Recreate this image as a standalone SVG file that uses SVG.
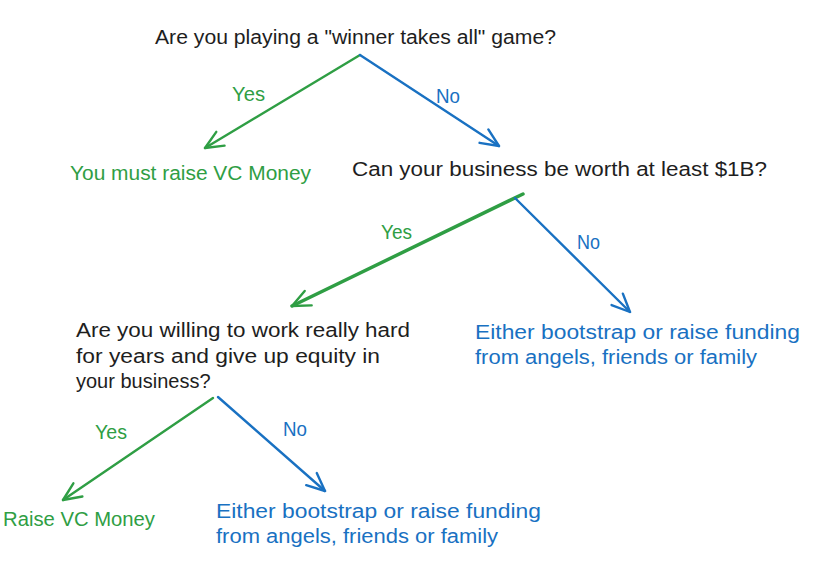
<svg xmlns="http://www.w3.org/2000/svg" width="813" height="565" viewBox="0 0 813 565">
<style>
text{font-family:"Liberation Sans","DejaVu Sans",sans-serif;font-size:20px}
.k{fill:#1e1e1e}.g{fill:#2f9e44}.b{fill:#1971c2}
.lg{stroke:#2f9e44;stroke-width:2.4;fill:none;stroke-linecap:round}
.lb{stroke:#1971c2;stroke-width:2.4;fill:none;stroke-linecap:round}
</style>
<defs>
<marker id="ag" markerUnits="userSpaceOnUse" markerWidth="30" markerHeight="30" refX="0" refY="0" viewBox="-20 -15 30 30" orient="auto"><path d="M-18 -8 L0 0 L-18 8" stroke="#2f9e44" stroke-width="2.4" fill="none" stroke-linecap="round" stroke-linejoin="round"/></marker>
<marker id="ab" markerUnits="userSpaceOnUse" markerWidth="30" markerHeight="30" refX="0" refY="0" viewBox="-20 -15 30 30" orient="auto"><path d="M-18 -8 L0 0 L-18 8" stroke="#1971c2" stroke-width="2.4" fill="none" stroke-linecap="round" stroke-linejoin="round"/></marker>
</defs>
<g id="connectors">
<line class="lg" x1="360" y1="55" x2="205" y2="148" marker-end="url(#ag)"/>
<line class="lb" x1="360" y1="55" x2="499" y2="146" marker-end="url(#ab)"/>
<line class="lg" style="stroke-width:3.5" x1="523" y1="194" x2="292" y2="306" marker-end="url(#ag)"/>
<line class="lb" x1="515" y1="198" x2="630" y2="312" marker-end="url(#ab)"/>
<line class="lg" x1="213" y1="398" x2="63" y2="500" marker-end="url(#ag)"/>
<line class="lb" x1="218" y1="397" x2="325" y2="491" marker-end="url(#ab)"/>
<text class="g" x="232" y="101" textLength="33" lengthAdjust="spacingAndGlyphs">Yes</text>
<text class="b" x="436" y="103" textLength="24" lengthAdjust="spacingAndGlyphs">No</text>
<text class="g" x="381" y="239" textLength="31" lengthAdjust="spacingAndGlyphs">Yes</text>
<text class="b" x="577" y="249" textLength="23" lengthAdjust="spacingAndGlyphs">No</text>
<text class="g" x="95" y="439" textLength="32" lengthAdjust="spacingAndGlyphs">Yes</text>
<text class="b" x="283" y="436" textLength="24" lengthAdjust="spacingAndGlyphs">No</text>
</g>
<g id="q1"><text class="k" x="155" y="44" textLength="401" lengthAdjust="spacingAndGlyphs">Are you playing a "winner takes all" game?</text></g>
<g id="vc1"><text class="g" x="70" y="180" textLength="241" lengthAdjust="spacingAndGlyphs">You must raise VC Money</text></g>
<g id="q2"><text class="k" x="352" y="176" textLength="415" lengthAdjust="spacingAndGlyphs">Can your business be worth at least $1B?</text></g>
<g id="q3">
<text class="k" x="76" y="337" textLength="334" lengthAdjust="spacingAndGlyphs">Are you willing to work really hard</text>
<text class="k" x="76" y="363" textLength="304" lengthAdjust="spacingAndGlyphs">for years and give up equity in</text>
<text class="k" x="76" y="388">your business?</text>
</g>
<g id="alt1">
<text class="b" x="475" y="339" textLength="325" lengthAdjust="spacingAndGlyphs">Either bootstrap or raise funding</text>
<text class="b" x="475" y="364" textLength="282" lengthAdjust="spacingAndGlyphs">from angels, friends or family</text>
</g>
<g id="vc2"><text class="g" x="3" y="526" textLength="152" lengthAdjust="spacingAndGlyphs">Raise VC Money</text></g>
<g id="alt2">
<text class="b" x="216" y="518" textLength="325" lengthAdjust="spacingAndGlyphs">Either bootstrap or raise funding</text>
<text class="b" x="216" y="543" textLength="282" lengthAdjust="spacingAndGlyphs">from angels, friends or family</text>
</g>
</svg>
